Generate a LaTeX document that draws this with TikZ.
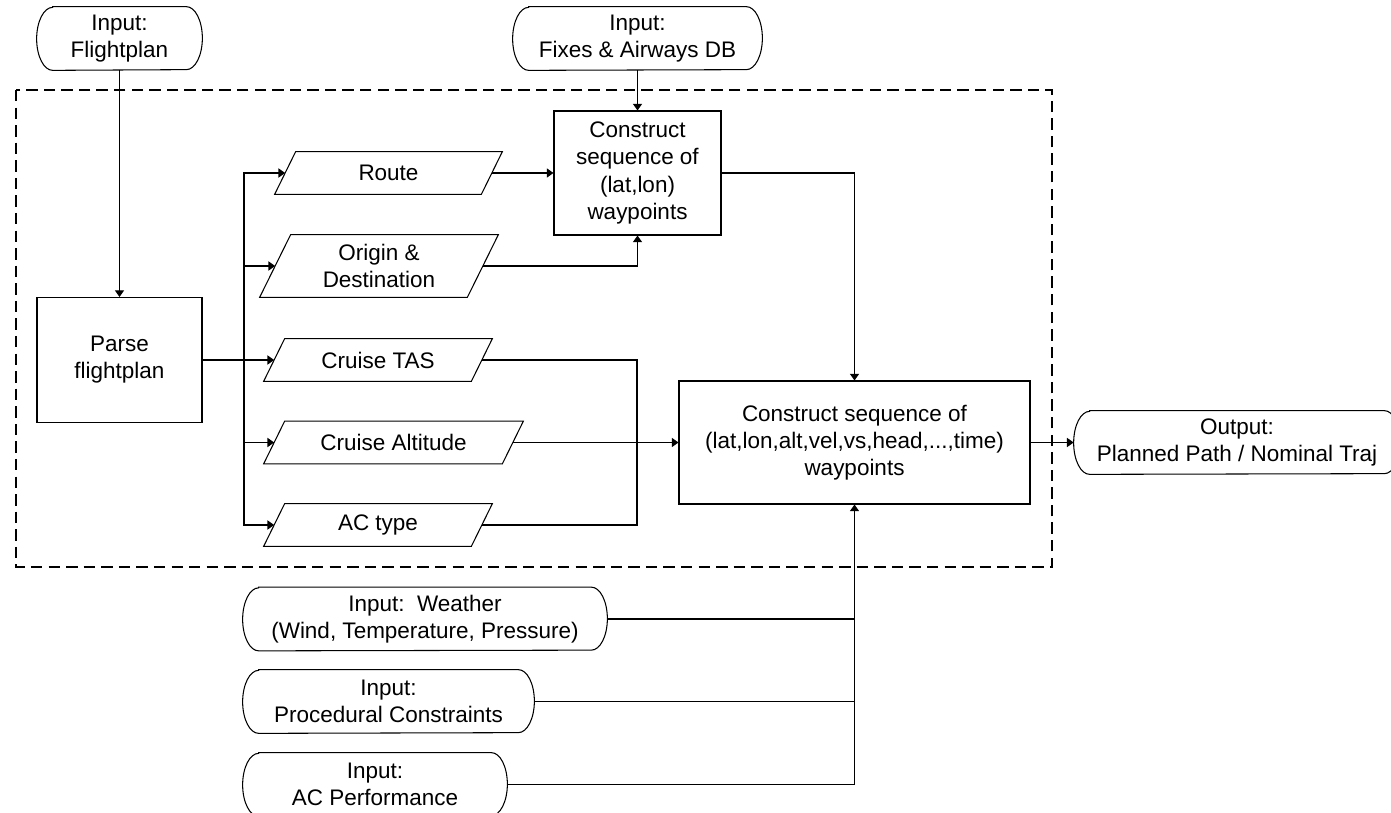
\documentclass[tikz,border=0pt]{standalone}
\usepackage{fontspec}
\setmainfont{Liberation Sans}
\usetikzlibrary{arrows.meta,calc}
\def\pxu{0.02cm}
\newcommand\fs{\fontsize{12.8pt}{15.4pt}\selectfont}
\tikzset{
 line/.style={draw=black, line width=0.6pt},
 arr/.style={line, -{Triangle[length=3.8pt,width=5.2pt]}},
 proc/.style={rectangle, draw, line width=0.6pt, align=center, inner sep=0pt, font=\fs},
 ptext/.style={rectangle, align=center, inner sep=0pt, font=\fs},
 pbox/.style={draw=black, line width=0.6pt},
 dashbox/.style={draw, line width=1.4pt, dash pattern=on 6.5pt off 3.5pt},
}
% parallelogram: name, cx, cy, total width, height, text
\newcommand\pgram[6]{%
 \node[ptext,minimum width=#4*\pxu,minimum height=#5*\pxu] (#1) at (#2,#3) {#6};
 \draw[pbox] ($(#1.north west)+(#5/2,0)$) -- (#1.north east) -- ($(#1.south east)-(#5/2,0)$) -- (#1.south west) -- cycle;
 \coordinate (#1-l) at ($(#1.west)+(#5/4,0)$);
 \coordinate (#1-r) at ($(#1.east)-(#5/4,0)$);
}
% terminator: name, cx, cy, total width, height, text
\newcommand\term[6]{%
 \node[ptext,minimum width=#4*\pxu,minimum height=#5*\pxu] (#1) at (#2,#3) {#6};
 \draw[pbox] ($(#1.north west)+(16,0)$) -- ($(#1.north east)-(16,0)$)
   arc[start angle=90,end angle=-90,x radius=16*\pxu,y radius=#5/2*\pxu]
   -- ($(#1.south west)+(16,0)$)
   arc[start angle=270,end angle=90,x radius=16*\pxu,y radius=#5/2*\pxu] -- cycle;
}
\begin{document}
\begin{tikzpicture}[x=0.02cm,y=-0.02cm]
\useasboundingbox (0,0) rectangle (1391,813);
\clip (0,0) rectangle (1391,813);
\fill[white] (0,0) rectangle (1391,813);
\draw[dashbox] (16,90) rectangle (1052,567);

\term{fp}{119.5}{38.5}{165}{63}{Input:\\Flightplan}
\term{fix}{637.5}{38.5}{249}{63}{Input:\\Fixes \& Airways DB}
\node[proc,minimum width=165*\pxu,minimum height=125*\pxu] (parse) at (119.5,360) {Parse\\flightplan};
\node[proc,minimum width=167*\pxu,minimum height=124*\pxu] (seq) at (637.5,173) {Construct\\sequence of\\(lat,lon)\\waypoints};
\node[proc,minimum width=351*\pxu,minimum height=123*\pxu] (traj) at (854.5,442.5) {Construct sequence of\\(lat,lon,alt,vel,vs,head,...,time)\\waypoints};
\term{out}{1237}{442.5}{326}{63}{Output:\\Planned Path / Nominal Traj}

\pgram{rte}{388.5}{173}{227}{42}{Route}
\pgram{org}{379}{266}{238}{62}{Origin \&\\Destination}
\pgram{ctas}{378}{360}{228}{42}{Cruise TAS}
\pgram{calt}{393.5}{442.5}{259}{42}{Cruise Altitude}
\pgram{act}{378}{525}{228}{42}{AC type}

\term{wx}{425}{619}{364}{63}{Input:~~Weather\\(Wind, Temperature, Pressure)}
\term{pc}{388.5}{701.5}{291}{63}{Input:\\Procedural Constraints}
\term{perf}{375}{784.5}{264}{63}{Input:\\AC Performance}

\coordinate (bus) at (244,360);
\coordinate (col) at (637,442.5);

\draw[arr] (fp.south) -- (parse.north);
\draw[arr] (fix.south) -- (seq.north);
\draw[arr] (parse.east) -- (ctas-l);
\draw[arr] (bus) |- (rte-l);
\draw[arr] (bus) |- (org-l);
\draw[arr] (bus) |- (calt-l);
\draw[arr] (bus) |- (act-l);
\draw[arr] (rte-r) -- (seq.west);
\draw[arr] (org-r) -| (seq.south);
\draw[arr] (seq.east) -| (traj.north);
\draw[line] (ctas-r) -| (col);
\draw[line] (act-r) -| (col);
\draw[arr] (calt-r) -- (traj.west);
\draw[arr] (traj.east) -- (out.west);
\draw[line] (wx.east) -- (wx.east -| traj.south);
\draw[line] (pc.east) -- (pc.east -| traj.south);
\draw[arr] (perf.east) -| (traj.south);
\end{tikzpicture}
\end{document}
